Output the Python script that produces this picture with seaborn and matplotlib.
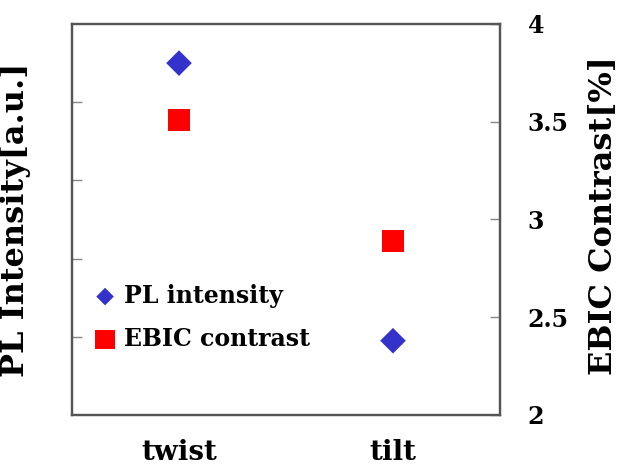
import matplotlib
matplotlib.use("Agg")
import matplotlib.pyplot as plt
import seaborn as sns
import pandas as pd

categories = ["twist", "tilt"]
pl_intensity = [4.5, 0.95]        # arbitrary units (left axis, unlabeled)
ebic_contrast = [3.51, 2.89]      # percent (right axis)

sns.set_theme(style="white")
plt.rcParams["font.family"] = ["DejaVu Serif", "DejaVu Sans"]
plt.rcParams["font.weight"] = "bold"
plt.rcParams["text.color"] = "black"
plt.rcParams["axes.labelcolor"] = "black"
plt.rcParams["xtick.color"] = "black"
plt.rcParams["ytick.color"] = "black"

df = pd.DataFrame({"cat": categories, "pl": pl_intensity, "ebic": ebic_contrast})

fig = plt.figure(figsize=(6.28, 4.68), dpi=100)
ax = fig.add_axes([72/628, 1-415/468, 428/628, 391/468])
ax2 = ax.twinx()

sns.scatterplot(data=df, x="cat", y="pl", marker="D", s=170, color="#3333CC",
                edgecolor="none", ax=ax, label="PL intensity", legend=False)
sns.scatterplot(data=df, x="cat", y="ebic", marker="s", s=250, color="#FF0000",
                edgecolor="none", ax=ax2, label="EBIC contrast", legend=False)

ax.set_xlim(-0.5, 1.5)
ax.set_ylim(0, 5)
ax.set_yticks([1, 2, 3, 4])
ax.set_yticklabels([])
ax2.set_ylim(2, 4)
ax2.set_yticks([2, 2.5, 3, 3.5, 4])
ax2.set_yticklabels(["2", "2.5", "3", "3.5", "4"])

for a in (ax, ax2):
    for sp in a.spines.values():
        sp.set_color("#555555")
        sp.set_linewidth(1.6)

ax.tick_params(axis="y", direction="in", length=7, width=1, color="#888888",
               labelcolor="black", left=True)
ax.tick_params(axis="x", length=0, pad=17, labelsize=20, labelcolor="black")
ax2.tick_params(axis="y", direction="in", length=7, width=1, color="#888888",
                labelcolor="black", right=True, pad=20, labelsize=17)
for lbl in ax.get_xticklabels() + ax2.get_yticklabels():
    lbl.set_fontweight("bold")

ax.set_xlabel("")
ax.set_ylabel("PL Intensity[a.u.]", fontsize=23, fontweight="bold", color="black")
ax.yaxis.set_label_coords(-0.095, 0.5)
ax2.set_ylabel("EBIC Contrast[%]", fontsize=23, fontweight="bold", color="black", rotation=90)
ax2.yaxis.set_label_coords(1.205, 0.51)

h1, l1 = ax.get_legend_handles_labels()
h2, l2 = ax2.get_legend_handles_labels()
leg = ax2.legend(h1 + h2, l1 + l2, loc="upper left", bbox_to_anchor=(0.0, 0.39),
                 frameon=False, handletextpad=0.3, handlelength=1.0,
                 labelspacing=0.8, prop={"family": "DejaVu Serif", "weight": "bold", "size": 17})
for t in leg.get_texts():
    t.set_color("black")
leg.legend_handles[0].set_sizes([80])
leg.legend_handles[1].set_sizes([200])

fig.savefig("out.png", dpi=100)
